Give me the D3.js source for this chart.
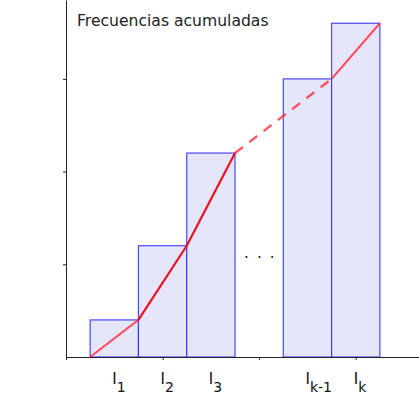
<!DOCTYPE html>
<html>
<head>
<meta charset="utf-8">
<script src="https://cdn.jsdelivr.net/npm/d3@7"></script>
<style>
  body { margin: 0; background: #fff; }
  text { font-family: "DejaVu Sans", sans-serif; fill: #111; }
</style>
</head>
<body>
<script>
// class intervals (start, end) and cumulative frequency heights
const intervalStart = [0.5, 1.5, 2.5, 4.5, 5.5]
const intervalEnd   = [1.5, 2.5, 3.5, 5.5, 6.5]
const cumFreq       = [0.4, 1.2, 2.2, 3.0, 3.6]
const labelMain     = ["I", "I", "I", "I", "I"]
const labelSub      = ["1", "2", "3", "k-1", "k"]
const xTicks = [0, 2, 4, 6]
const yTicks = [1, 2, 3]
// ogive points: start of first class at 0, then end of each class
const ogiveX = [0.5, 1.5, 2.5, 3.5, 5.5, 6.5]
const ogiveY = [0, 0.4, 1.2, 2.2, 3.0, 3.6]

const width = 419, height = 413
const marginLeft = 66, axisY = 357

const x = d3.scaleLinear().domain([0, 7.31]).range([marginLeft, width])
const y = d3.scaleLinear().domain([0, 3.851]).range([axisY, 0])

const svg = d3.select("body").append("svg")
    .attr("width", width)
    .attr("height", height)

const bars = d3.range(cumFreq.length).map(i => ({
  x0: intervalStart[i], x1: intervalEnd[i], v: cumFreq[i],
  main: labelMain[i], sub: labelSub[i]
}))

svg.selectAll("rect.bar")
  .data(bars)
  .join("rect")
    .attr("class", "bar")
    .attr("x", d => x(d.x0))
    .attr("y", d => y(d.v))
    .attr("width", d => x(d.x1) - x(d.x0))
    .attr("height", d => y(0) - y(d.v))
    .attr("fill", "#e6e6fa")
    .attr("stroke", "#2a2aff")
    .attr("stroke-opacity", 0.85)
    .attr("stroke-width", 1.2)

// axes
svg.append("g")
    .attr("transform", `translate(0,${axisY})`)
    .call(d3.axisBottom(x).tickValues(xTicks).tickFormat("").tickSize(3).tickSizeOuter(0))
    .call(g => g.selectAll("path, line").attr("stroke", "#222"))

svg.append("g")
    .attr("transform", `translate(${marginLeft},0)`)
    .call(d3.axisLeft(y).tickValues(yTicks).tickFormat("").tickSize(3).tickSizeOuter(0))
    .call(g => g.selectAll("path, line").attr("stroke", "#222"))

// ogive line
const pts = ogiveX.map((v, i) => [x(v), y(ogiveY[i])])
const line = d3.line()
const red = "#ff2030"

svg.append("path")
    .attr("d", line(pts.slice(0, 4)))
    .attr("fill", "none").attr("stroke", red).attr("stroke-opacity", 0.75)
    .attr("stroke-width", 2.2).attr("stroke-linejoin", "round")
svg.append("path")
    .attr("d", line(pts.slice(1, 4)))
    .attr("fill", "none").attr("stroke", "#dd0010").attr("stroke-opacity", 0.7)
    .attr("stroke-width", 2).attr("stroke-linejoin", "round")
svg.append("path")
    .attr("d", line(pts.slice(3, 5)))
    .attr("fill", "none").attr("stroke", red).attr("stroke-opacity", 0.75)
    .attr("stroke-width", 2.4).attr("stroke-dasharray", "10,8")
svg.append("path")
    .attr("d", line(pts.slice(4, 6)))
    .attr("fill", "none").attr("stroke", red).attr("stroke-opacity", 0.75)
    .attr("stroke-width", 2.2)

// interval labels
const lab = svg.selectAll("text.lab")
  .data(bars)
  .join("text")
    .attr("class", "lab")
    .attr("x", d => x((d.x0 + d.x1) / 2) - 2)
    .attr("y", 384)
    .attr("font-size", 15)
lab.append("tspan").text(d => d.main)
lab.append("tspan").attr("dy", 7.5).attr("font-size", 14).text(d => d.sub)

// ellipsis in the gap
svg.append("text")
    .attr("x", x(4) + 1)
    .attr("y", 258)
    .attr("text-anchor", "middle")
    .attr("font-size", 15)
    .attr("letter-spacing", 1.7)
    .style("fill", "#111")
    .text(". . .")

svg.append("text")
    .attr("x", 77)
    .attr("y", 26)
    .attr("font-size", 15.6)
    .style("fill", "#222")
    .text("Frecuencias acumuladas")
</script>
</body>
</html>
